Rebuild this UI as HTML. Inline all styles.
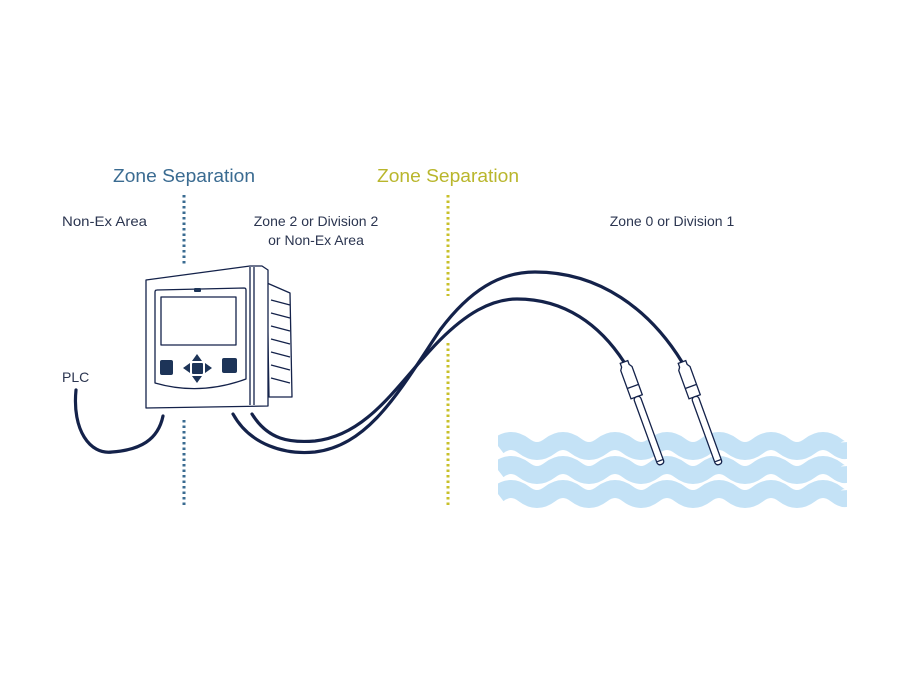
<!DOCTYPE html>
<html><head><style>body{margin:0;background:#fff}svg{display:block}</style></head><body>
<svg width="900" height="675" viewBox="0 0 900 675" xmlns="http://www.w3.org/2000/svg" font-family="Liberation Sans, sans-serif">
<rect width="900" height="675" fill="#fff"/>
<text x="184" y="182" text-anchor="middle" font-size="18" fill="#3a6b91" textLength="142" lengthAdjust="spacingAndGlyphs">Zone Separation</text>
<text x="448" y="182" text-anchor="middle" font-size="18" fill="#b9b62c" textLength="142" lengthAdjust="spacingAndGlyphs">Zone Separation</text>
<g font-size="14" fill="#2b3550">
<text x="62" y="226" textLength="85" lengthAdjust="spacingAndGlyphs">Non-Ex Area</text>
<text x="316" y="226" text-anchor="middle">Zone 2 or Division 2</text>
<text x="316" y="245" text-anchor="middle">or Non-Ex Area</text>
<text x="672" y="226" text-anchor="middle">Zone 0 or Division 1</text>
<text x="62" y="382">PLC</text>
</g>
<g stroke-width="3" stroke-dasharray="2.5 3" fill="none">
<path d="M184 195V266M184 420V506" stroke="#3a6b91"/>
<path d="M448 195V296M448 343V506" stroke="#c8c02a"/>
</g>
<!-- waves -->
<g fill="none" stroke="#c4e2f6" stroke-width="18">
<path id="w" d="M498 446 q13 -10 26 0 t26 0 t26 0 t26 0 t26 0 t26 0 t26 0 t26 0 t26 0 t26 0 t26 0 t26 0 t26 0 t12 -4"/>
<use href="#w" y="24"/><use href="#w" y="48"/>
</g>
<rect x="847" y="420" width="20" height="100" fill="#fff"/>
<rect x="480" y="420" width="18" height="100" fill="#fff"/>
<!-- cables -->
<g fill="none" stroke="#14224a" stroke-width="3.2" stroke-linecap="round">
<path d="M76 390 C72 430 90 455 112 452 C140 450 158 440 163 416"/>
<path d="M233 414 C250 445 285 455 315 452 C370 445 400 390 440 330 C470 290 500 272 535 272 C600 272 650 310 682 362"/>
<path d="M252 414 C268 440 290 443 315 441 C370 435 400 380 440 340 C465 315 490 299 517 299 C565 299 600 325 624 362"/>
</g>
<!-- probes -->
<g fill="#fff" stroke="#14224a" stroke-width="1.3">
<g transform="translate(624 362) rotate(-20)">
<path d="M-4 0h8v4l2 3v30h-12v-30l2-3z"/><path d="M-6 26h12"/>
<rect x="-3.5" y="37" width="7" height="72" rx="3"/><path d="M-3 105h6"/>
</g>
<g transform="translate(682 362) rotate(-20)">
<path d="M-4 0h8v4l2 3v30h-12v-30l2-3z"/><path d="M-6 26h12"/>
<rect x="-3.5" y="37" width="7" height="72" rx="3"/><path d="M-3 105h6"/>
</g>
</g>
<!-- device -->
<g stroke="#14224a" stroke-width="1.3" fill="#fff" stroke-linejoin="round">
<path d="M267 283 L290 293 L292 397 L269 397 Z"/>
<path d="M146 280 L250 266 L262 266 L268 270 L268 406 L146 408 Z"/>
<path d="M250 267V405M254 267V405" fill="none"/>
<path d="M155 292 Q155 290 157 290 L244 288 Q246 288 246 290 L246 379 Q200 396 155 383 Z"/>
<rect x="161" y="297" width="75" height="48" fill="#fff"/>
<path d="M271 300l19 5M271 313l19 5M271 326l19 5M271 339l19 5M271 352l19 5M271 365l19 5M271 378l19 5" fill="none"/>
</g>
<g fill="#1d3458">
<rect x="194" y="288" width="7" height="4" rx="1"/>
<rect x="160" y="360" width="13" height="15" rx="2"/>
<rect x="222" y="358" width="15" height="15" rx="2"/>
<rect x="192" y="363" width="11" height="11" rx="1"/>
<path d="M192 361l5-7 5 7z M192 376l5 7 5-7z M190 363l-7 5 7 5z M205 363l7 5-7 5z"/>
</g>
</svg>
</body></html>
